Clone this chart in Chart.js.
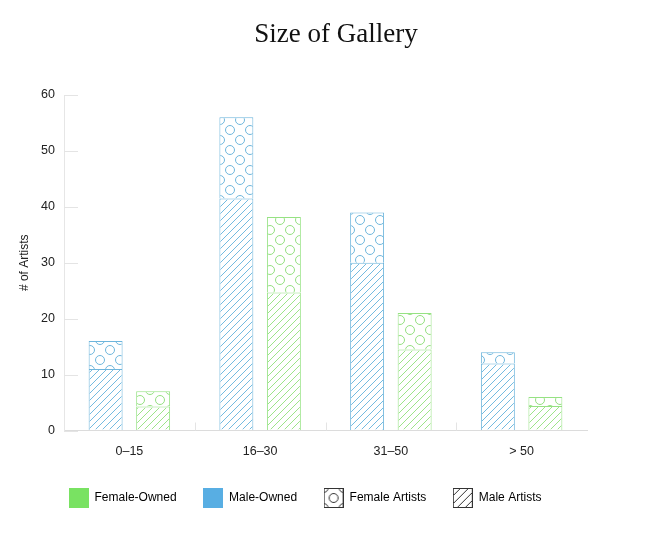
<!DOCTYPE html>
<html>
<head>
<meta charset="utf-8">
<script src="https://cdn.jsdelivr.net/npm/chart.js@4.4.1/dist/chart.umd.min.js"></script>
<style>
  body { margin: 0; background: #fff; }
  #wrap { width: 672px; height: 533px; position: relative; }
</style>
</head>
<body>
<div id="wrap"><canvas id="galleryChart"></canvas></div>
<script>
// gallery size groups
const sizeGroups = ['0–15', '16–30', '31–50', '> 50'];

// male-owned galleries
const maleOwnedMaleArtists = [11, 41.5, 30, 12];
const maleOwnedFemaleArtists = [5, 14.5, 9, 2];

// female-owned galleries
const femaleOwnedMaleArtists = [4.3, 24.7, 14.5, 4.4];
const femaleOwnedFemaleArtists = [2.7, 13.5, 6.5, 1.6];

const yTicks = [0, 10, 20, 30, 40, 50, 60];

const legendNames = ['Female-Owned', 'Male-Owned', 'Female Artists', 'Male Artists'];

const HATCH_GAP = 7;

// keep the tile canvases alive
const tiles = [];

// "/" hatching, one pixel per row (legend swatch)
function drawHatch(g, color, w, h) {
  g.fillStyle = color;
  for (let y = 0; y < h; y++) {
    for (let x0 = 0; x0 < w + 8; x0 += 8) {
      const x = x0 + (7 - (y % 8));
      if (x < w) g.fillRect(x, y, 1, 1);
    }
  }
}

function drawDots(g, color) {
  g.strokeStyle = color;
  g.lineWidth = 1;
  [[0, 0], [20, 0], [0, 20], [20, 20], [10, 10]].forEach(p => {
    g.beginPath();
    g.arc(p[0], p[1], 4.5, 0, Math.PI * 2);
    g.stroke();
  });
}

function dots(color) {
  const c = document.createElement('canvas');
  c.width = 20; c.height = 20;
  const g = c.getContext('2d');
  g.fillStyle = '#ffffff';
  g.fillRect(0, 0, 20, 20);
  drawDots(g, color);
  tiles.push(c);
  return g.createPattern(c, 'repeat');
}

// legend swatches as small images
function swatch(kind, color) {
  const c = document.createElement('canvas');
  c.width = 20; c.height = 20;
  const g = c.getContext('2d');
  if (kind === 'solid') {
    g.fillStyle = color;
    g.fillRect(0, 0, 20, 20);
  } else {
    g.fillStyle = '#ffffff';
    g.fillRect(0, 0, 20, 20);
    if (kind === 'dots') drawDots(g, '#333333');
    else drawHatch(g, '#333333', 20, 20);
    g.strokeStyle = '#333333';
    g.lineWidth = 1;
    g.strokeRect(0.5, 0.5, 19, 19);
  }
  tiles.push(c);
  return c;
}

const blueLine = '#6db5dc';
const greenLine = '#96e283';

const barSets = [
  { label: 'Male-Owned / Male Artists', stack: 'male', data: maleOwnedMaleArtists, fill: '#ffffff', hatch: '#74bbe0', line: blueLine },
  { label: 'Male-Owned / Female Artists', stack: 'male', data: maleOwnedFemaleArtists, fill: dots('#6fb7dd'), line: blueLine },
  { label: 'Female-Owned / Male Artists', stack: 'female', data: femaleOwnedMaleArtists, fill: '#ffffff', hatch: '#9de48a', line: greenLine },
  { label: 'Female-Owned / Female Artists', stack: 'female', data: femaleOwnedFemaleArtists, fill: dots('#94e081'), line: greenLine }
];

const legendSwatches = [
  swatch('solid', '#79e262'),
  swatch('solid', '#58aee3'),
  swatch('dots'),
  swatch('hatch')
];

// diagonal hatching inside the bars of the "male artists" datasets
const barHatch = {
  id: 'barHatch',
  afterDatasetDraw(chart, args) {
    const color = chart.data.datasets[args.index].hatchColor;
    if (!color) return;
    const ctx = chart.ctx;
    args.meta.data.forEach(bar => {
      const p = bar.getProps(['x', 'y', 'base', 'width'], true);
      const left = p.x - p.width / 2 + 1;
      const right = p.x + p.width / 2 - 1;
      const top = Math.min(p.y, p.base) + 1;
      const bottom = Math.max(p.y, p.base) - 0.5;
      if (bottom <= top) return;
      ctx.save();
      ctx.beginPath();
      ctx.rect(left, top, right - left, bottom - top);
      ctx.clip();
      ctx.strokeStyle = color;
      ctx.lineWidth = 1;
      ctx.beginPath();
      for (let c = Math.floor((left + top) / HATCH_GAP) * HATCH_GAP; c <= right + bottom + HATCH_GAP; c += HATCH_GAP) {
        ctx.moveTo(c - bottom, bottom);
        ctx.lineTo(c - top, top);
      }
      ctx.stroke();
      ctx.restore();
    });
  }
};

// small inner ticks on the axes
const axisMarks = {
  id: 'axisMarks',
  afterDraw(chart) {
    const {ctx, chartArea, scales} = chart;
    ctx.save();
    ctx.strokeStyle = '#e4e4e4';
    ctx.lineWidth = 1;
    yTicks.forEach(v => {
      const y = Math.round(scales.y.getPixelForValue(v)) + 0.5;
      ctx.beginPath();
      ctx.moveTo(chartArea.left, y);
      ctx.lineTo(chartArea.left + 14, y);
      ctx.stroke();
    });
    const w = (chartArea.right - chartArea.left) / sizeGroups.length;
    for (let i = 1; i < sizeGroups.length; i++) {
      const x = Math.round(chartArea.left + w * i) + 0.5;
      ctx.beginPath();
      ctx.moveTo(x, chartArea.bottom);
      ctx.lineTo(x, chartArea.bottom - 8);
      ctx.stroke();
    }
    ctx.restore();
  }
};

// legend sits a bit left of centre in the original
const legendShift = {
  id: 'legendShift',
  afterLayout(chart) {
    chart.legend.left -= 31;
    chart.legend.right -= 31;
  }
};

const ctx = document.getElementById('galleryChart').getContext('2d');
new Chart(ctx, {
  type: 'bar',
  data: {
    labels: sizeGroups,
    datasets: barSets.map(s => ({
      label: s.label,
      stack: s.stack,
      data: s.data,
      backgroundColor: s.fill,
      hoverBackgroundColor: s.fill,
      hatchColor: s.hatch,
      borderColor: s.line,
      borderWidth: 1
    }))
  },
  options: {
    responsive: true,
    maintainAspectRatio: false,
    animation: false,
    categoryPercentage: 0.727,
    barPercentage: 0.714,
    layout: { padding: { bottom: 19 } },
    plugins: {
      title: {
        display: true,
        text: 'Size of Gallery',
        color: '#111',
        font: { family: 'Liberation Serif', size: 27, weight: 'normal' },
        padding: { top: 19, bottom: 43.6 }
      },
      legend: {
        position: 'bottom',
        onClick: null,
        labels: {
          usePointStyle: true,
          pointStyleWidth: 20,
          boxHeight: 20,
          padding: 26.5,
          color: '#222',
          font: { family: 'Liberation Sans', size: 12 },
          generateLabels() {
            return legendNames.map((name, i) => ({ text: name, pointStyle: legendSwatches[i], lineWidth: 0 }));
          }
        }
      },
      tooltip: { enabled: false }
    },
    scales: {
      x: {
        stacked: true,
        grid: { display: false },
        border: { color: '#dcdcdc' },
        ticks: {
          color: '#222',
          padding: 6,
          font: { family: 'Liberation Sans', size: 12.5 }
        },
        afterFit(s) { s.height = 35; }
      },
      y: {
        stacked: true,
        min: 0,
        max: 60,
        grid: { drawOnChartArea: false, drawTicks: false },
        border: { color: '#e6e6e6' },
        ticks: {
          stepSize: 10,
          color: '#222',
          padding: 9,
          font: { family: 'Liberation Sans', size: 12.5 }
        },
        title: {
          display: true,
          text: '# of Artists',
          color: '#222',
          font: { family: 'Liberation Sans', size: 12 },
          padding: { top: 17 }
        },
        afterFit(s) { s.width = 64; }
      },
      yRight: {
        position: 'right',
        display: true,
        grid: { display: false },
        border: { display: false },
        ticks: { display: false },
        afterFit(s) { s.width = 85; }
      }
    }
  },
  plugins: [barHatch, axisMarks, legendShift]
});
</script>
</body>
</html>
